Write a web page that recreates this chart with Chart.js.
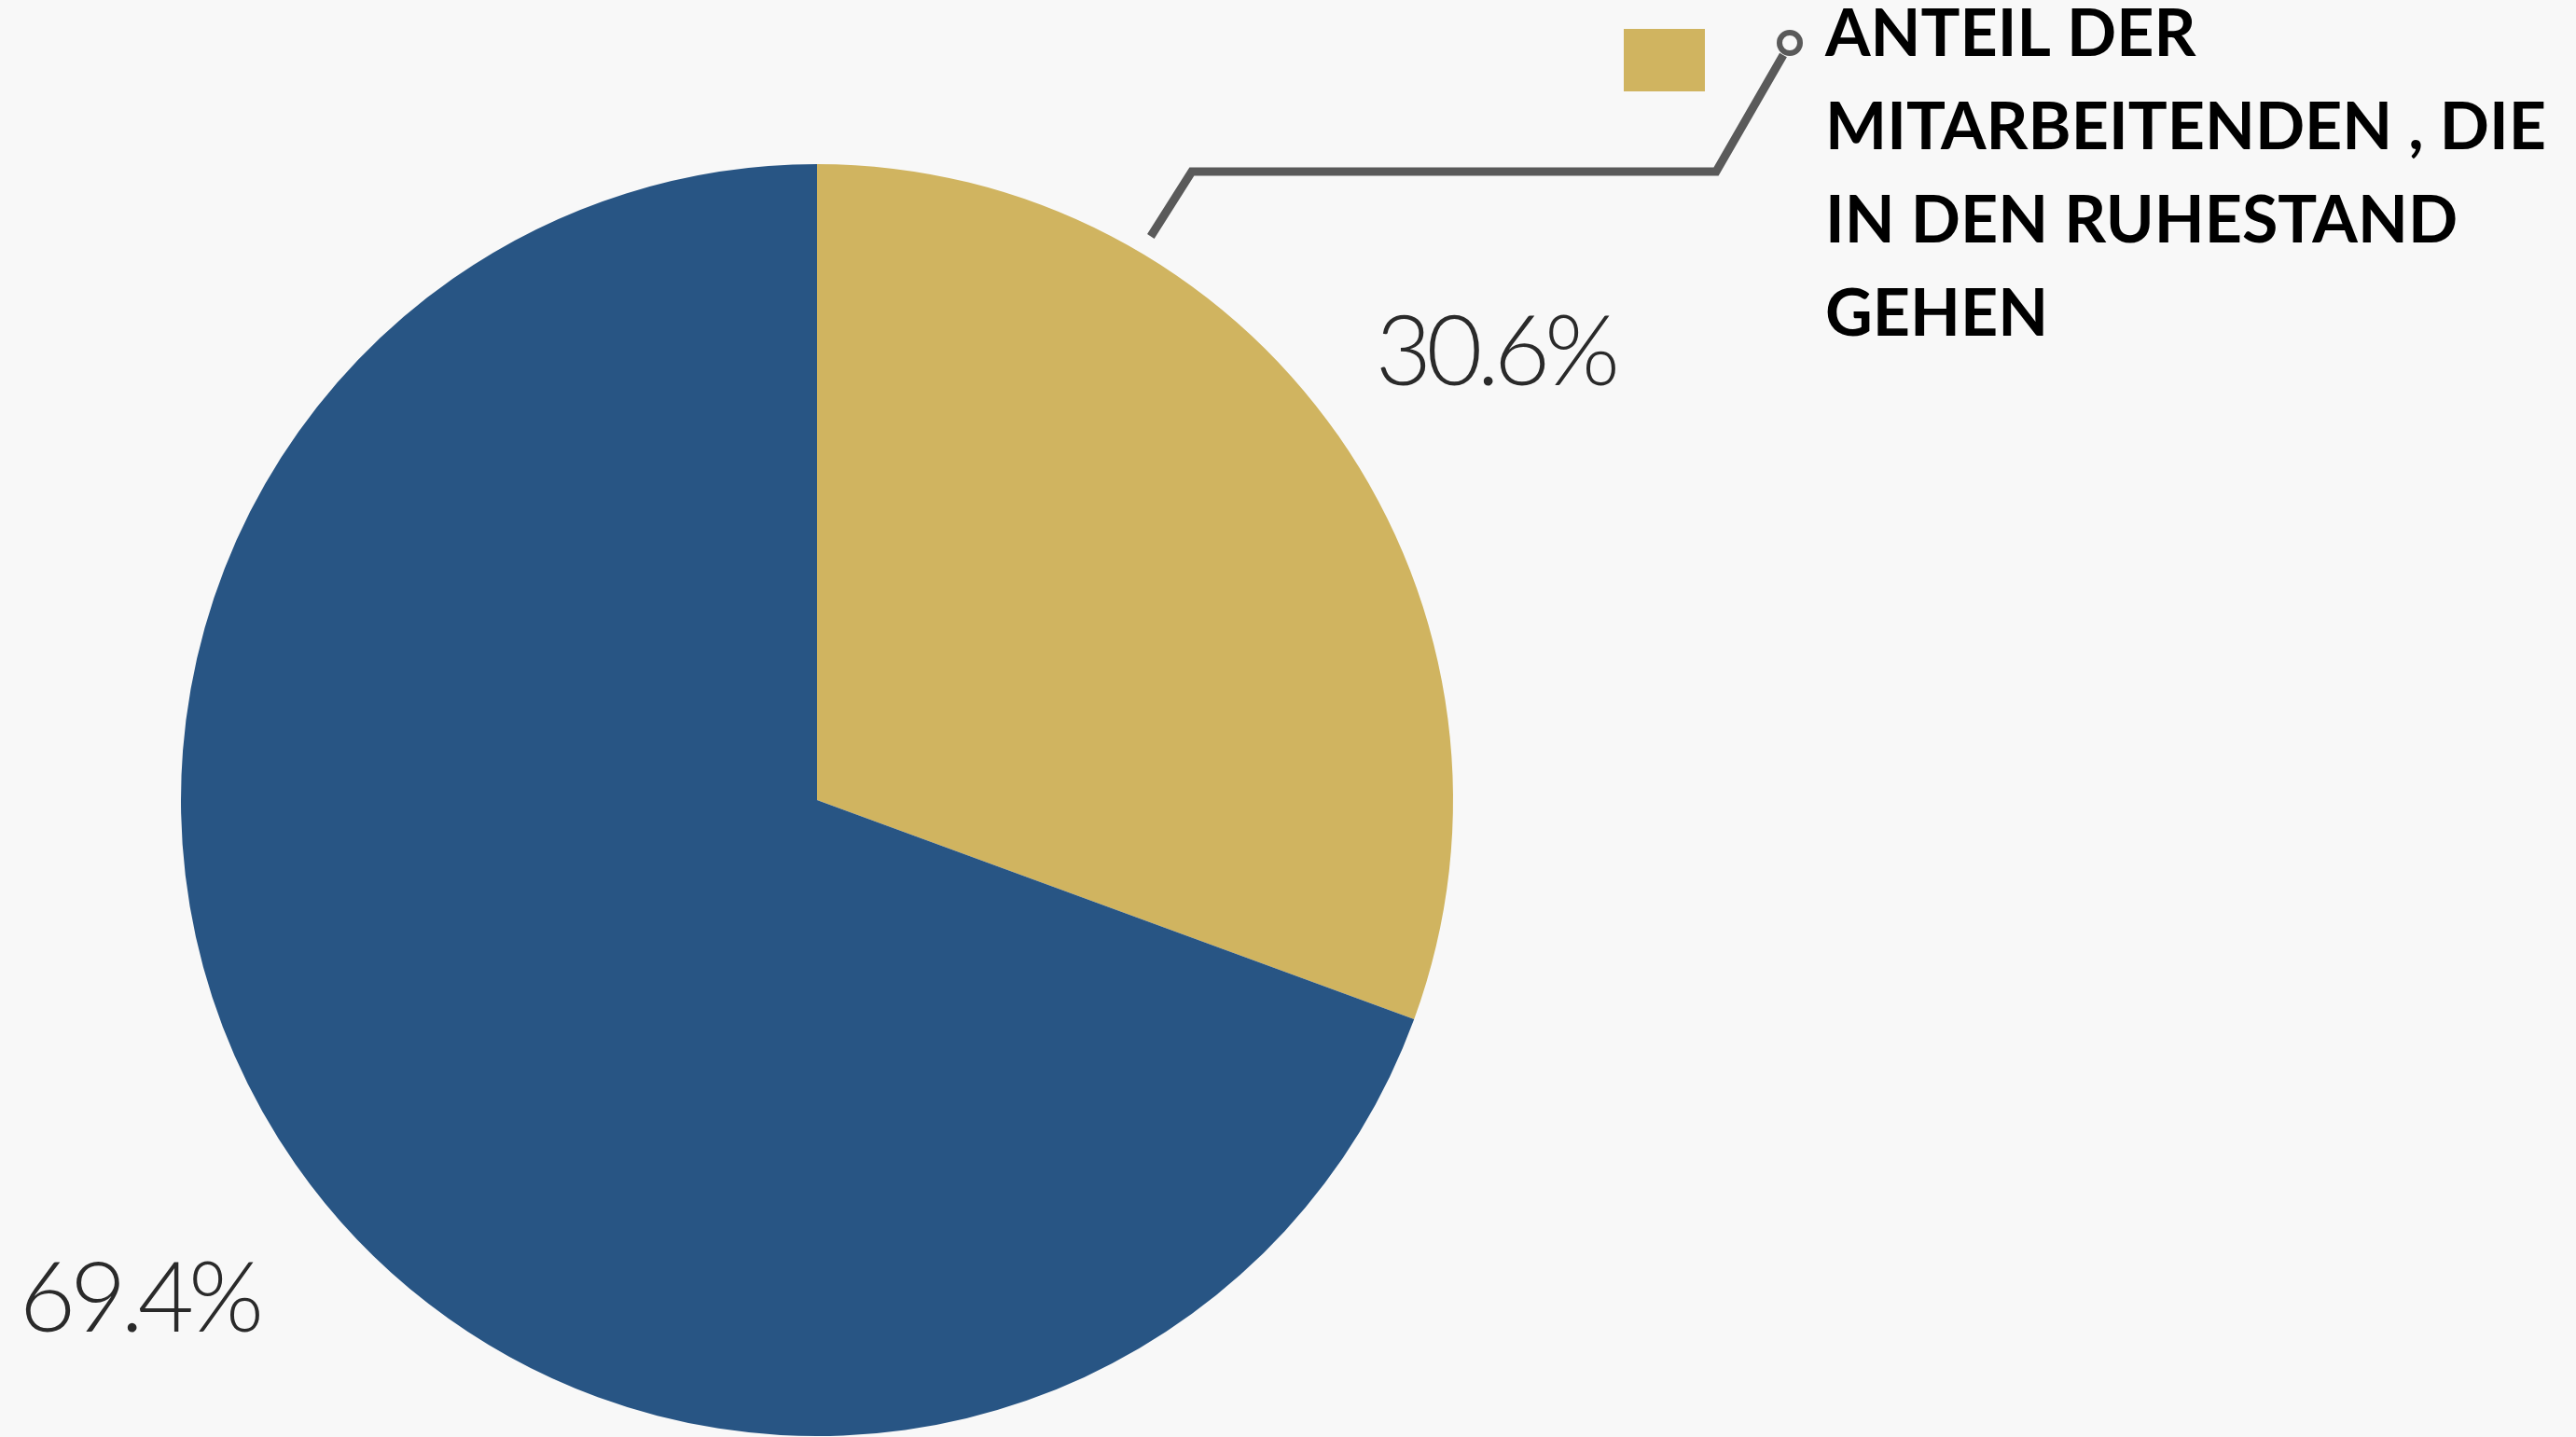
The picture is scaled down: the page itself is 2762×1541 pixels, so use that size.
<!DOCTYPE html>
<html>
<head>
<meta charset="utf-8">
<script src="https://cdn.jsdelivr.net/npm/chart.js@4/dist/chart.umd.min.js"></script>
<style>
    html, body { margin: 0; padding: 0; background: #f8f8f8; }
    #wrap { width: 2762px; height: 1541px; position: relative; }
</style>
</head>
<body>
<div id="wrap"><canvas id="pieChart"></canvas></div>
<script>
var categories = ["ANTEIL DER MITARBEITENDEN , DIE IN DEN RUHESTAND GEHEN", "ANDERE"];
var values = [30.6, 69.4];
var legendLines = ["ANTEIL DER", "MITARBEITENDEN , DIE", "IN DEN RUHESTAND", "GEHEN"];
var colors = ["#d0b460", "#285584"];

// percent labels outside the slices, legend entry and leader line
var decorations = {
  id: "decorations",
  afterDraw: (chart) => {
    var ctx = chart.ctx;
    var arcs = chart.getDatasetMeta(0).data;
    ctx.save();
    ctx.fillStyle = "#2a2a2a";
    ctx.font = "300 104px Lato";
    ctx.letterSpacing = "-6px";
    ctx.textAlign = "center";
    ctx.textBaseline = "middle";
    for (var i = 0; i < arcs.length; i++) {
      var a = arcs[i];
      var mid = (a.startAngle + a.endAngle) / 2;
      var r = a.outerRadius * 1.3;
      ctx.fillText(values[i].toFixed(1) + "%", a.x + r * Math.cos(mid), a.y + r * Math.sin(mid) + 29);
    }
    ctx.letterSpacing = "0px";

    // legend square
    ctx.fillStyle = colors[0];
    ctx.fillRect(1741, 31, 87, 67);

    // legend text
    ctx.fillStyle = "#000";
    ctx.font = "bold 70px Lato";
    ctx.textAlign = "left";
    ctx.textBaseline = "alphabetic";
    for (var j = 0; j < legendLines.length; j++) {
      ctx.fillText(legendLines[j], 1957, 60 + j * 100);
    }

    // leader line from the gold slice to the legend
    var g = arcs[0];
    var ang = g.startAngle + (g.endAngle - g.startAngle) * 0.278;
    var sx = g.x + g.outerRadius * 1.03 * Math.cos(ang);
    var sy = g.y + g.outerRadius * 1.03 * Math.sin(ang);
    ctx.strokeStyle = "#5a5a5a";
    ctx.lineWidth = 9;
    ctx.beginPath();
    ctx.moveTo(sx, sy);
    ctx.lineTo(sx + 44, 184);
    ctx.lineTo(1840, 184);
    ctx.lineTo(1912, 59);
    ctx.stroke();
    ctx.lineWidth = 6;
    ctx.beginPath();
    ctx.arc(1919, 46, 11, 0, Math.PI * 2);
    ctx.stroke();
    ctx.restore();
  }
};

new Chart("pieChart", {
  type: "pie",
  data: {
    labels: categories,
    datasets: [{
      backgroundColor: colors,
      borderWidth: 0,
      data: values
    }]
  },
  options: {
    responsive: true,
    maintainAspectRatio: false,
    devicePixelRatio: 1,
    animation: false,
    layout: {
      padding: { left: 194, top: 176, right: 1204, bottom: 1 }
    },
    plugins: {
      legend: { display: false },
      tooltip: { enabled: false }
    }
  },
  plugins: [decorations]
});
</script>
</body>
</html>
